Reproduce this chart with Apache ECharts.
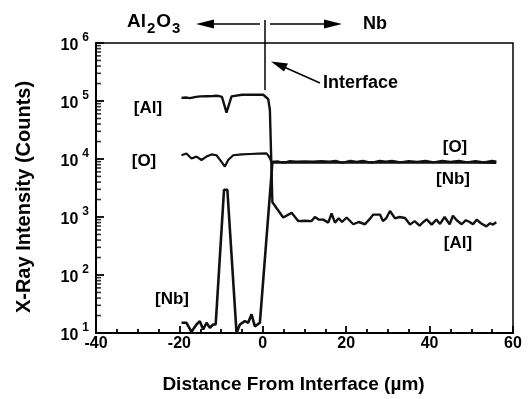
<!DOCTYPE html>
<html>
<head>
<meta charset="utf-8">
<script src="https://cdn.jsdelivr.net/npm/echarts@6/dist/echarts.min.js"></script>
<style>
html,body{margin:0;padding:0;background:#fff;}
#c{width:529px;height:399px;}
</style>
</head>
<body>
<div id="c"></div>
<script>
// ---- data (distance in µm, intensity in counts) ----
const alX = [-19.5,-18.5,-17.5,-16,-15,-13.5,-12,-10.7,-9.8,-8.7,-7.5,-7.1,-5,-3,-1,0.1,1.3,1.7,2.3,2.7,4.9,6.9,8.5,10,11.7,12.5,13.5,14.5,15.7,16.5,17.3,18.2,19,20.1,21.7,23,24.5,25.5,26.5,28.1,28.8,29.6,30.5,31.7,32.8,34.1,35.3,36.4,37.6,38.5,39.3,40.5,41.6,42.5,43.6,44.8,45.6,46.5,47.7,48.7,49.6,50.4,51.3,52.3,53.6,54.5,55.2,56];
const alY = [1.13e5,1.15e5,1.12e5,1.18e5,1.2e5,1.21e5,1.22e5,1.23e5,1.18e5,6.3e4,1.2e5,1.27e5,1.28e5,1.28e5,1.28e5,1.28e5,1.08e5,7e4,1800,1700,980,1180,850,860,850,1000,900,900,800,1150,800,950,820,980,750,820,750,900,1100,1100,850,950,1270,950,1000,960,740,850,710,820,910,740,900,760,1000,750,1050,880,750,880,820,750,900,780,690,780,740,810];

const oX = [-19.5,-18.3,-17.1,-15.9,-14.7,-13.5,-12.3,-11.1,-9.9,-9.1,-8.3,-7.1,-5,-3,-1,0.9,1.5,2.1,3.5,5,6.5,8,10,12,14,16,17.5,19,21,22.5,24,26,28,29.5,31,33,35,37,39,41,43,45,47,49,51,53,55,56];
const oY = [1.16e4,1.24e4,1.02e4,1.1e4,9.6e3,1.1e4,1.2e4,1.16e4,8.9e3,7.4e3,9.6e3,1.16e4,1.2e4,1.22e4,1.24e4,1.25e4,1.1e4,8.9e3,9.1e3,8.6e3,9.2e3,9.0e3,9.1e3,9.0e3,9.2e3,9.0e3,9.3e3,8.6e3,9.3e3,8.9e3,9.3e3,8.6e3,9.3e3,9.0e3,9.3e3,8.8e3,9.2e3,8.9e3,9.3e3,8.8e3,9.3e3,8.9e3,9.3e3,8.8e3,9.2e3,8.8e3,9.3e3,9.0e3];

const nbX = [-19.5,-18.3,-17.1,-15.9,-15.1,-14.3,-13.5,-12.7,-11.9,-11.3,-9.3,-8.5,-6.3,-5.5,-4.3,-3.5,-2.7,-1.9,-0.7,2.3,5,10,15,20,25,30,35,40,45,50,56];
const nbY = [15,15,10.5,14,16,11.5,15,12.3,14,14,2950,2950,10,14,16,15,21,13,15,8700,8750,8700,8800,8700,8750,8700,8800,8700,8750,8700,8650];

const xTicks = {min: -40, max: 60, step: 20};
const yRange = {min: 10, max: 1e6};
// log minor tick positions (2..9 within each decade)
const minorMultipliers = [2,3,4,5,6,7,8,9];
const decades = [10, 100, 1000, 10000, 100000];

const zip = (xs, ys) => xs.map((x, i) => [x, ys[i]]);
const minorTickData = [];
decades.forEach(d => minorMultipliers.forEach(m => minorTickData.push([xTicks.min, d * m])));

const FONT = '"Liberation Sans", Arial, Helvetica, sans-serif';
const chart = echarts.init(document.getElementById('c'), null, {renderer: 'canvas'});

const lineStyle = (w) => ({color: '#111', width: w});
const txt = (x, y, text, size, align) => ({type: 'text', x: x, y: y, style: {text: text, font: 'bold ' + size + 'px ' + FONT, fill: '#000', align: align || 'center', verticalAlign: 'middle'}});

const option = {
  backgroundColor: '#fff',
  animation: false,
  grid: {left: 96, right: 16, top: 43, bottom: 62, show: true, borderColor: '#000', borderWidth: 1.5, containLabel: false},
  xAxis: {
    type: 'value', min: xTicks.min, max: xTicks.max, interval: xTicks.step,
    name: 'Distance From Interface (\u00b5m)', nameLocation: 'middle', nameGap: 42,
    nameTextStyle: {fontFamily: FONT, fontWeight: 'bold', fontSize: 19, color: '#000', padding: [0, 22, 0, 0]},
    axisLine: {show: true, onZero: false, lineStyle: {color: '#000', width: 2}},
    axisTick: {show: true, inside: true, length: 7, lineStyle: {color: '#000', width: 1.8}},
    minorTick: {show: true, splitNumber: 4, length: 4, lineStyle: {color: '#000', width: 1.8}},
    axisLabel: {fontFamily: FONT, fontWeight: 'bold', fontSize: 16, color: '#000', margin: 3},
    splitLine: {show: false}
  },
  yAxis: {
    type: 'log', logBase: 10, min: yRange.min, max: yRange.max,
    name: 'X-Ray Intensity (Counts)', nameLocation: 'middle', nameGap: 62,
    nameTextStyle: {fontFamily: FONT, fontWeight: 'bold', fontSize: 20, color: '#000', padding: [0, 18, 0, 0]},
    axisLine: {show: true, onZero: false, lineStyle: {color: '#000', width: 2}},
    axisTick: {show: true, inside: true, length: 8, lineStyle: {color: '#000', width: 1.8}},
    axisLabel: {
      margin: 7,
      formatter: v => '{b|10}{e|' + Math.round(Math.log10(v)) + '}',
      rich: {
        b: {fontFamily: FONT, fontWeight: 'bold', fontSize: 16, color: '#000', lineHeight: 22, verticalAlign: 'bottom'},
        e: {fontFamily: FONT, fontWeight: 'bold', fontSize: 12, color: '#000', lineHeight: 22, verticalAlign: 'top', padding: [0, 0, 0, 4]}
      }
    },
    splitLine: {show: false}
  },
  series: [
    {type: 'line', name: 'Al', data: zip(alX, alY), showSymbol: false, lineStyle: lineStyle(2.4), z: 3},
    {type: 'line', name: 'O', data: zip(oX, oY), showSymbol: false, lineStyle: lineStyle(2.2), z: 3},
    {type: 'line', name: 'Nb', data: zip(nbX, nbY), showSymbol: false, lineStyle: lineStyle(2.6), z: 3},
    {
      type: 'scatter', name: 'minorTicks', data: minorTickData, silent: true, clip: false, z: 4,
      symbol: 'rect', symbolSize: [5, 1.6], symbolOffset: [2.5, 0],
      itemStyle: {color: '#000'}
    }
  ],
  graphic: [
    // top annotation
    {type: 'text', x: 127, y: 24, style: {
      text: '{a|Al}{s|2}{a|O}{s|3}', align: 'left', verticalAlign: 'middle',
      rich: {
        a: {fontFamily: FONT, fontWeight: 'bold', fontSize: 19, fill: '#000', lineHeight: 24, verticalAlign: 'top'},
        s: {fontFamily: FONT, fontWeight: 'bold', fontSize: 15, fill: '#000', lineHeight: 24, verticalAlign: 'bottom', padding: [0, 1, 0, 1]}
      }}},
    {type: 'line', shape: {x1: 212, y1: 24, x2: 260, y2: 24}, style: {stroke: '#000', lineWidth: 1.5}},
    {type: 'polygon', shape: {points: [[196, 24], [214, 19.5], [214, 28.5]]}, style: {fill: '#000'}},
    {type: 'line', shape: {x1: 270, y1: 24, x2: 326, y2: 24}, style: {stroke: '#000', lineWidth: 1.5}},
    {type: 'polygon', shape: {points: [[342, 24], [324, 19.5], [324, 28.5]]}, style: {fill: '#000'}},
    txt(363, 24, 'Nb', 18, 'left'),
    {type: 'line', shape: {x1: 265, y1: 20, x2: 265, y2: 90}, style: {stroke: '#000', lineWidth: 1.5}},
    // interface pointer
    {type: 'line', shape: {x1: 284, y1: 67, x2: 320, y2: 83}, style: {stroke: '#000', lineWidth: 1.5}},
    {type: 'polygon', shape: {points: [[271, 61.5], [288, 63.5], [284, 71.5]]}, style: {fill: '#000'}},
    txt(323, 83, 'Interface', 18, 'left'),
    // series labels
    txt(148, 108, '[Al]', 17),
    txt(144, 161, '[O]', 17),
    txt(172, 299, '[Nb]', 17),
    txt(455, 147, '[O]', 17),
    txt(453, 179, '[Nb]', 17),
    txt(458, 243, '[Al]', 17)
  ]
};
chart.setOption(option);
</script>
</body>
</html>
